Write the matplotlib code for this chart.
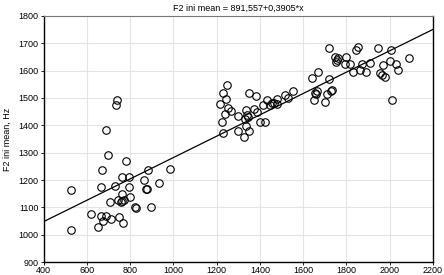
import matplotlib
matplotlib.use("Agg")
import matplotlib.pyplot as plt
import numpy as np

plt.rcParams['font.family'] = ['Liberation Sans', 'DejaVu Sans']

# F2 at voicing onset vs. F2 mean
f2_x = [527, 527, 698, 672, 780, 666, 730, 761, 795, 794, 864, 883, 983, 932,
        872, 878, 761, 800, 743, 760, 765, 770, 707, 822, 826, 897, 621, 664,
        687, 676, 652, 710, 750, 766, 690, 738, 733,
        1249, 1228, 1242, 1214, 1255, 1265, 1240, 1223, 1228, 1349, 1380, 1300,
        1335, 1340, 1330, 1335, 1372, 1385, 1347, 1300, 1327, 1352, 1400, 1424,
        1413, 1432, 1445, 1455, 1466, 1478, 1481, 1517, 1531, 1552,
        1641, 1669, 1720, 1718, 1649, 1660, 1655, 1663, 1702, 1712, 1733, 1727,
        1747, 1755, 1752, 1760, 1800, 1793, 1819, 1844, 1854, 1831, 1862, 1870,
        1890, 1910, 1944, 1954, 1966, 1977, 1970, 2008, 2000, 2013, 2031, 2039,
        2090]
f2_y = [1165, 1017, 1293, 1236, 1271, 1175, 1179, 1210, 1210, 1175, 1200, 1236, 1239, 1189,
        1168, 1168, 1149, 1139, 1128, 1120, 1123, 1127, 1120, 1100, 1097, 1100, 1074, 1070,
        1070, 1049, 1029, 1057, 1065, 1044, 1384, 1494, 1473,
        1549, 1517, 1496, 1477, 1465, 1451, 1442, 1412, 1373, 1518, 1509, 1433,
        1455, 1436, 1424, 1398, 1461, 1447, 1430, 1378, 1357, 1381, 1414, 1414,
        1476, 1491, 1473, 1481, 1483, 1497, 1477, 1512, 1500, 1526,
        1573, 1594, 1681, 1569, 1494, 1514, 1518, 1527, 1487, 1516, 1528, 1526,
        1651, 1640, 1633, 1645, 1651, 1624, 1626, 1675, 1685, 1595, 1604, 1626,
        1595, 1628, 1681, 1592, 1583, 1577, 1620, 1675, 1635, 1491, 1626, 1602,
        1645]

intercept = 891.557
slope = 0.3905

fig = plt.figure(figsize=(4.44, 2.75), dpi=100)
ax = fig.add_axes([0.098, 0.047, 0.877, 0.895])

ax.grid(True, color='#e4e4e4', linewidth=0.8)
ax.set_axisbelow(True)

line_x = np.array([400, 2200])
ax.plot(line_x, intercept + slope * line_x, color='black', linewidth=0.9)

ax.plot(f2_x, f2_y, 'o', markersize=5.4, markerfacecolor='none',
        markeredgecolor='black', markeredgewidth=0.8)

ax.set_xlim(400, 2200)
ax.set_ylim(900, 1800)
ax.set_xticks(np.arange(400, 2201, 200))
ax.set_yticks(np.arange(900, 1801, 100))
ax.tick_params(labelsize=6.5, length=2, width=0.6, pad=1.5)
ax.tick_params(axis='x', pad=0.5)

ax.set_title('F2 ini mean = 891,557+0,3905*x', fontsize=6.5, pad=4)
ax.set_ylabel('F2 ini mean, Hz', fontsize=6.5, labelpad=5)

for side in ['left', 'bottom', 'right']:
    ax.spines[side].set_color('black')
    ax.spines[side].set_linewidth(1.0)
ax.spines['top'].set_color('#777777')

plt.savefig('out.png', dpi=100)
